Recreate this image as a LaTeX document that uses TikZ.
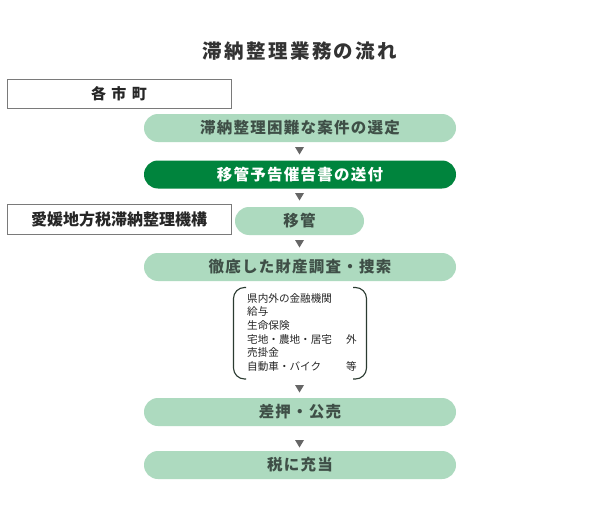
\documentclass[tikz,border=0pt]{standalone}
\usepackage{fontspec}
\setmainfont{Noto Sans CJK JP}
\usetikzlibrary{calc}
\definecolor{lightpill}{HTML}{ADDABF}
\definecolor{darkpill}{HTML}{00843D}
\definecolor{pilltext}{HTML}{3F4F47}
\definecolor{boxline}{HTML}{7A7A7A}
\definecolor{tricol}{HTML}{666666}
\definecolor{bracecol}{HTML}{2B3B31}
\definecolor{titlecol}{HTML}{333333}
\newcommand\downtri[2]{\fill[tricol] (#1-4.5,#2) -- ++(9,0) -- ++(-4.5,7.5) -- cycle;}
\begin{document}
\begin{tikzpicture}[x=1pt,y=-1pt,
  pill/.style={rounded corners=14pt, minimum width=312pt, minimum height=28pt, inner sep=0pt,
    fill=lightpill, text=pilltext, font=\fontsize{15.5}{18}\selectfont\bfseries\addfontfeature{LetterSpace=8}},
  darkp/.style={pill, fill=darkpill, text=white},
  labelbox/.style={draw=boxline, line width=0.8pt, minimum width=224pt, minimum height=29pt, inner sep=0pt,
    text=black!85, font=\fontsize{15}{18}\selectfont\bfseries},
  listtxt/.style={anchor=west, inner sep=0pt, text=black!85, font=\fontsize{10.6}{12}\selectfont},
  bracket/.style={draw=bracecol, line width=1.1pt, rounded corners=11pt}]
\useasboundingbox (0,0) rectangle (600,519);
\fill[white] (0,0) rectangle (600,519);
\node[text=titlecol, font=\fontsize{19.5}{22}\selectfont\bfseries\addfontfeature{LetterSpace=12}] (title) at (300,51) {滞納整理業務の流れ};
\node[labelbox, font=\fontsize{15}{18}\selectfont\bfseries\addfontfeature{LetterSpace=36}] (city) at (119,93.5) {各市町};
\node[pill] (p1) at (300,128) {滞納整理困難な案件の選定};
\node[darkp] (p2) at (300,174.5) {移管予告催告書の送付};
\node[labelbox, minimum height=30pt, font=\fontsize{16}{18}\selectfont\bfseries] (org) at (119,219) {愛媛地方税滞納整理機構};
\node[pill, minimum width=129pt] (p3) at (299.5,221) {移管};
\node[pill] (p4) at (300,267) {徹底した財産調査・捜索};
\node[listtxt] (l1) at (247,298) {県内外の金融機関};
\node[listtxt] (l2) at (247,311.5) {給与};
\node[listtxt] (l3) at (247,325.2) {生命保険};
\node[listtxt] (l4) at (247,339) {宅地・農地・居宅};
\node[listtxt] (l5) at (247,352.5) {売掛金};
\node[listtxt] (l6) at (247,366.3) {自動車・バイク};
\node[listtxt, anchor=east] (l4b) at (357,339) {外};
\node[listtxt, anchor=east] (l6b) at (357,366.3) {等};
\draw[bracket] (246,287.5) -- (233.5,287.5) -- (233.5,379) -- (246,379);
\draw[bracket] (353,287.5) -- (366.5,287.5) -- (366.5,379) -- (353,379);
\node[pill] (p5) at (300,412) {差押・公売};
\node[pill] (p6) at (300,465) {税に充当};
\downtri{299.5}{147}
\downtri{299.5}{193}
\downtri{299.5}{240}
\downtri{299.5}{385}
\downtri{299.5}{440}
\end{tikzpicture}
\end{document}
